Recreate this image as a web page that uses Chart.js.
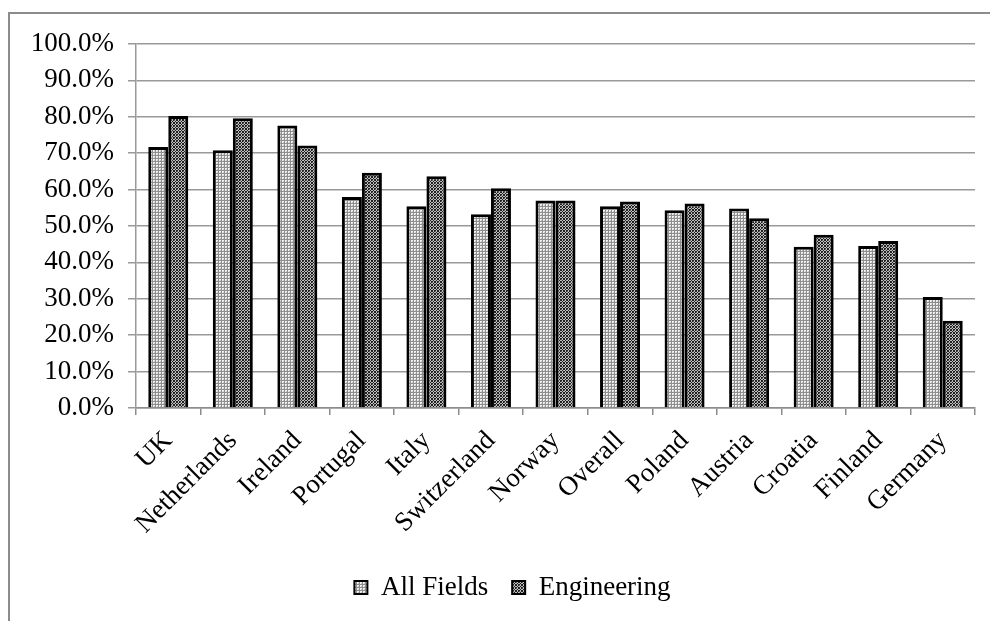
<!DOCTYPE html>
<html>
<head>
<meta charset="utf-8">
<script src="https://cdn.jsdelivr.net/npm/chart.js@4/dist/chart.umd.min.js"></script>
<style>
html,body{margin:0;padding:0;background:#fff;}
#frame{position:absolute;left:8px;top:12px;width:1000px;height:640px;border:2px solid #8c8c8c;box-sizing:border-box;}
#wrap{position:absolute;left:0;top:0;width:990px;height:621px;}
</style>
</head>
<body>
<div id="frame"></div>
<div id="wrap"><canvas id="c" width="990" height="621"></canvas></div>
<script>
const categories = ["UK","Netherlands","Ireland","Portugal","Italy","Switzerland","Norway","Overall","Poland","Austria","Croatia","Finland","Germany"];
const allFields = [71.7, 70.8, 77.6, 58.0, 55.4, 53.2, 57.0, 55.4, 54.3, 54.8, 44.3, 44.5, 30.5];
const engineering = [80.2, 79.6, 72.1, 64.6, 63.7, 60.4, 57.0, 56.7, 56.2, 52.1, 47.6, 45.9, 24.0];
const yTicks = [0,10,20,30,40,50,60,70,80,90,100];

function makeLightPattern(){
  const c = document.createElement('canvas'); c.width = 3; c.height = 3;
  const g = c.getContext('2d');
  g.fillStyle = '#8e8e8e'; g.fillRect(0,0,3,3);
  g.fillStyle = '#f2f2f2'; g.fillRect(0,0,2,2);
  g.fillStyle = '#c8c8c8'; g.fillRect(1,1,1,1);
  return g.createPattern(c,'repeat');
}
function makeDarkPattern(){
  const c = document.createElement('canvas'); c.width = 6; c.height = 6;
  const g = c.getContext('2d');
  g.fillStyle = '#202020'; g.fillRect(0,0,6,6);
  g.fillStyle = '#bdbdbd';
  g.fillRect(1,0,1,1); g.fillRect(4,0,1,1);
  g.fillRect(0,1,1,1); g.fillRect(2,1,1,1); g.fillRect(3,1,1,1); g.fillRect(5,1,1,1);
  g.fillRect(1,2,1,1); g.fillRect(4,2,1,1);
  g.fillRect(1,3,1,1); g.fillRect(4,3,1,1);
  g.fillRect(0,4,1,1); g.fillRect(2,4,1,1); g.fillRect(3,4,1,1); g.fillRect(5,4,1,1);
  g.fillRect(1,5,1,1); g.fillRect(4,5,1,1);
  g.fillStyle = '#6a6a6a';
  g.fillRect(0,0,1,1); g.fillRect(3,3,1,1);
  return g.createPattern(c,'repeat');
}
const lightP = makeLightPattern();
const darkP = makeDarkPattern();
const FONT = "'Liberation Serif','Times New Roman',serif";

const shiftLegend = {
  id: 'shiftLegend',
  afterLayout(chart){
    const lg = chart.legend;
    if (lg) { lg.left += 25; lg.right += 25; }
  }
};

new Chart(document.getElementById('c'), {
  type: 'bar',
  data: {
    labels: categories,
    datasets: [
      {label: 'All Fields', data: allFields, backgroundColor: lightP, borderColor: '#000', borderWidth: 3, borderSkipped: 'bottom', categoryPercentage: 0.62, barPercentage: 1.0},
      {label: 'Engineering', data: engineering, backgroundColor: darkP, borderColor: '#000', borderWidth: 3, borderSkipped: 'bottom', categoryPercentage: 0.62, barPercentage: 1.0}
    ]
  },
  plugins: [shiftLegend],
  options: {
    responsive: false,
    animation: false,
    layout: {padding: {left: 0, right: 15, top: 44, bottom: 10}},
    plugins: {
      tooltip: {enabled: false},
      legend: {
        position: 'bottom',
        labels: {
          font: {family: FONT, size: 27},
          color: '#000',
          boxWidth: 13, boxHeight: 13,
          padding: 24,
          generateLabels(chart){
            return chart.data.datasets.map((d,i)=>({
              text: d.label, fillStyle: d.backgroundColor, strokeStyle: '#000', lineWidth: 2, datasetIndex: i, fontColor: '#000'
            }));
          }
        }
      }
    },
    scales: {
      x: {
        offset: true,
        grid: {display: true, drawOnChartArea: false, drawTicks: true, tickLength: 7, color: '#8c8c8c', lineWidth: 1.5, offset: true},
        border: {display: true, color: '#8c8c8c', width: 1.5},
        ticks: {font: {family: FONT, size: 27}, color: '#000', minRotation: 45, maxRotation: 45, padding: 10, autoSkip: false},
        afterFit(s){ s.height = 142; }
      },
      y: {
        min: 0, max: 100,
        afterBuildTicks(s){ s.ticks = yTicks.map(v=>({value:v})); },
        grid: {color: '#999999', lineWidth: 1.5, tickLength: 8, drawTicks: true},
        border: {display: true, color: '#999999', width: 1.5},
        ticks: {font: {family: FONT, size: 27}, color: '#000', padding: 14, callback: v => v.toFixed(1) + '%'},
        afterFit(s){ s.width = 136; }
      }
    }
  }
});
</script>
</body>
</html>
